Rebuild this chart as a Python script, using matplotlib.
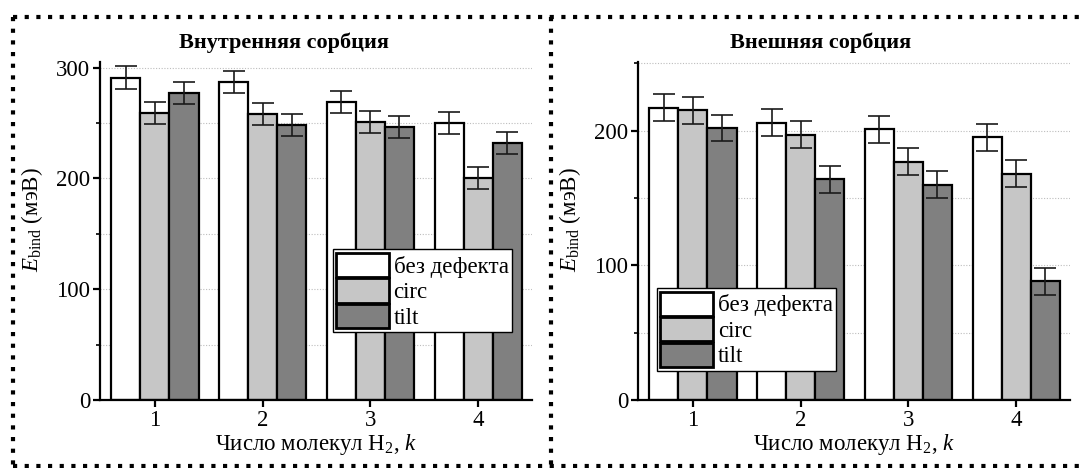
import numpy as np
import matplotlib
matplotlib.use('Agg')
import matplotlib.pyplot as plt
from matplotlib.lines import Line2D
from matplotlib.ticker import MultipleLocator

plt.rcParams['font.family'] = ['Liberation Serif', 'DejaVu Serif']
plt.rcParams['mathtext.fontset'] = 'custom'
plt.rcParams['mathtext.rm'] = 'Liberation Serif'
plt.rcParams['mathtext.it'] = 'Liberation Serif:italic'
plt.rcParams['mathtext.bf'] = 'Liberation Serif:bold'

# число молекул H2
k = [1, 2, 3, 4]
series = ['без дефекта', 'circ', 'tilt']
colors = ['#ffffff', '#c6c6c6', '#808080']

# внутренняя сорбция, мэВ
inner_clean = [291, 287, 269, 250]
inner_circ = [259, 258, 251, 200]
inner_tilt = [277, 248, 246, 232]
inner_err = [10, 10, 10]

# внешняя сорбция, мэВ
outer_clean = [217, 206, 201, 195]
outer_circ = [215, 197, 177, 168]
outer_tilt = [202, 164, 160, 88]
outer_err = [10, 10, 10]

W, H = 1081, 468
FS = 16.5
fig = plt.figure(figsize=(W / 100, H / 100), dpi=100)


def px_box(x0, x1, ytop, ybot):
    return [x0 / W, 1 - ybot / H, (x1 - x0) / W, (ybot - ytop) / H]


def draw_panel(ax, data, err, ymax, major, leg_anchor):
    x = np.array(k)
    bw = 0.27
    for i, (vals, c) in enumerate(zip(data, colors)):
        ax.bar(x + (i - 1) * bw, vals, bw, color=c, edgecolor='black',
               linewidth=1.6, label=series[i], zorder=2,
               yerr=err[i], capsize=8,
               error_kw=dict(elinewidth=1.2, capthick=1.2, ecolor='#1a1a1a'))
    ax.set_xlim(0.49, 4.5)
    ax.set_ylim(0, ymax)
    ax.set_xticks(k)
    ax.yaxis.set_major_locator(MultipleLocator(major))
    ax.yaxis.set_minor_locator(MultipleLocator(major / 2))
    ax.grid(axis='y', which='both', linestyle=(0, (1, 1.5)),
            color='#bdbdbd', linewidth=0.8, zorder=0)
    ax.set_axisbelow(True)
    for s in ['top', 'right']:
        ax.spines[s].set_visible(False)
    for s in ['left', 'bottom']:
        ax.spines[s].set_linewidth(1.6)
    ax.tick_params(which='major', direction='out', length=5, width=1.6,
                   labelsize=FS, pad=2)
    ax.tick_params(which='minor', direction='out', length=3, width=1.2)
    ax.tick_params(axis='x', which='minor', length=0)
    ax.set_xlabel(r'Число молекул H$_2$, $k$', fontsize=FS, labelpad=1)
    ax.set_ylabel(r'$E_{\mathrm{bind}}$ (мэВ)', fontsize=FS)
    ax.yaxis.set_label_coords(-0.128, 0.535)
    leg = ax.legend(loc='lower left', bbox_to_anchor=leg_anchor,
                    fontsize=FS, fancybox=False, frameon=True,
                    edgecolor='black', framealpha=1, handlelength=2.3,
                    handleheight=1.25, labelspacing=0.03, borderpad=0.15,
                    handletextpad=0.2, borderaxespad=0)
    leg.get_frame().set_linewidth(1.0)
    for p in leg.get_patches():
        p.set_linewidth(2.0)


ax1 = fig.add_axes(px_box(100, 532, 62, 400))
draw_panel(ax1, [inner_clean, inner_circ, inner_tilt], inner_err, 305, 100,
           (0.539, 0.201))

ax2 = fig.add_axes(px_box(638, 1070, 62, 400))
draw_panel(ax2, [outer_clean, outer_circ, outer_tilt], outer_err, 251, 100,
           (0.044, 0.086))

fig.text(284 / W, 1 - 43 / H, 'Внутренняя сорбция', ha='center', va='center',
         fontsize=16, fontweight='bold')
fig.text(821 / W, 1 - 43 / H, 'Внешняя сорбция', ha='center', va='center',
         fontsize=16, fontweight='bold')

# пунктирная рамка вокруг панелей
frame = dict(color='black', linewidth=3, linestyle=(0, (1, 1.8)),
             dash_capstyle='butt', transform=fig.transFigure)
top, bot, left, mid = 1 - 17 / H, 1 - 466 / H, 13 / W, 551 / W
fig.add_artist(Line2D([left, 1], [top, top], **frame))
fig.add_artist(Line2D([left, 1], [bot, bot], **frame))
fig.add_artist(Line2D([left, left], [top, bot], **frame))
fig.add_artist(Line2D([mid, mid], [top, bot], **frame))

fig.savefig('out.png', dpi=100)
